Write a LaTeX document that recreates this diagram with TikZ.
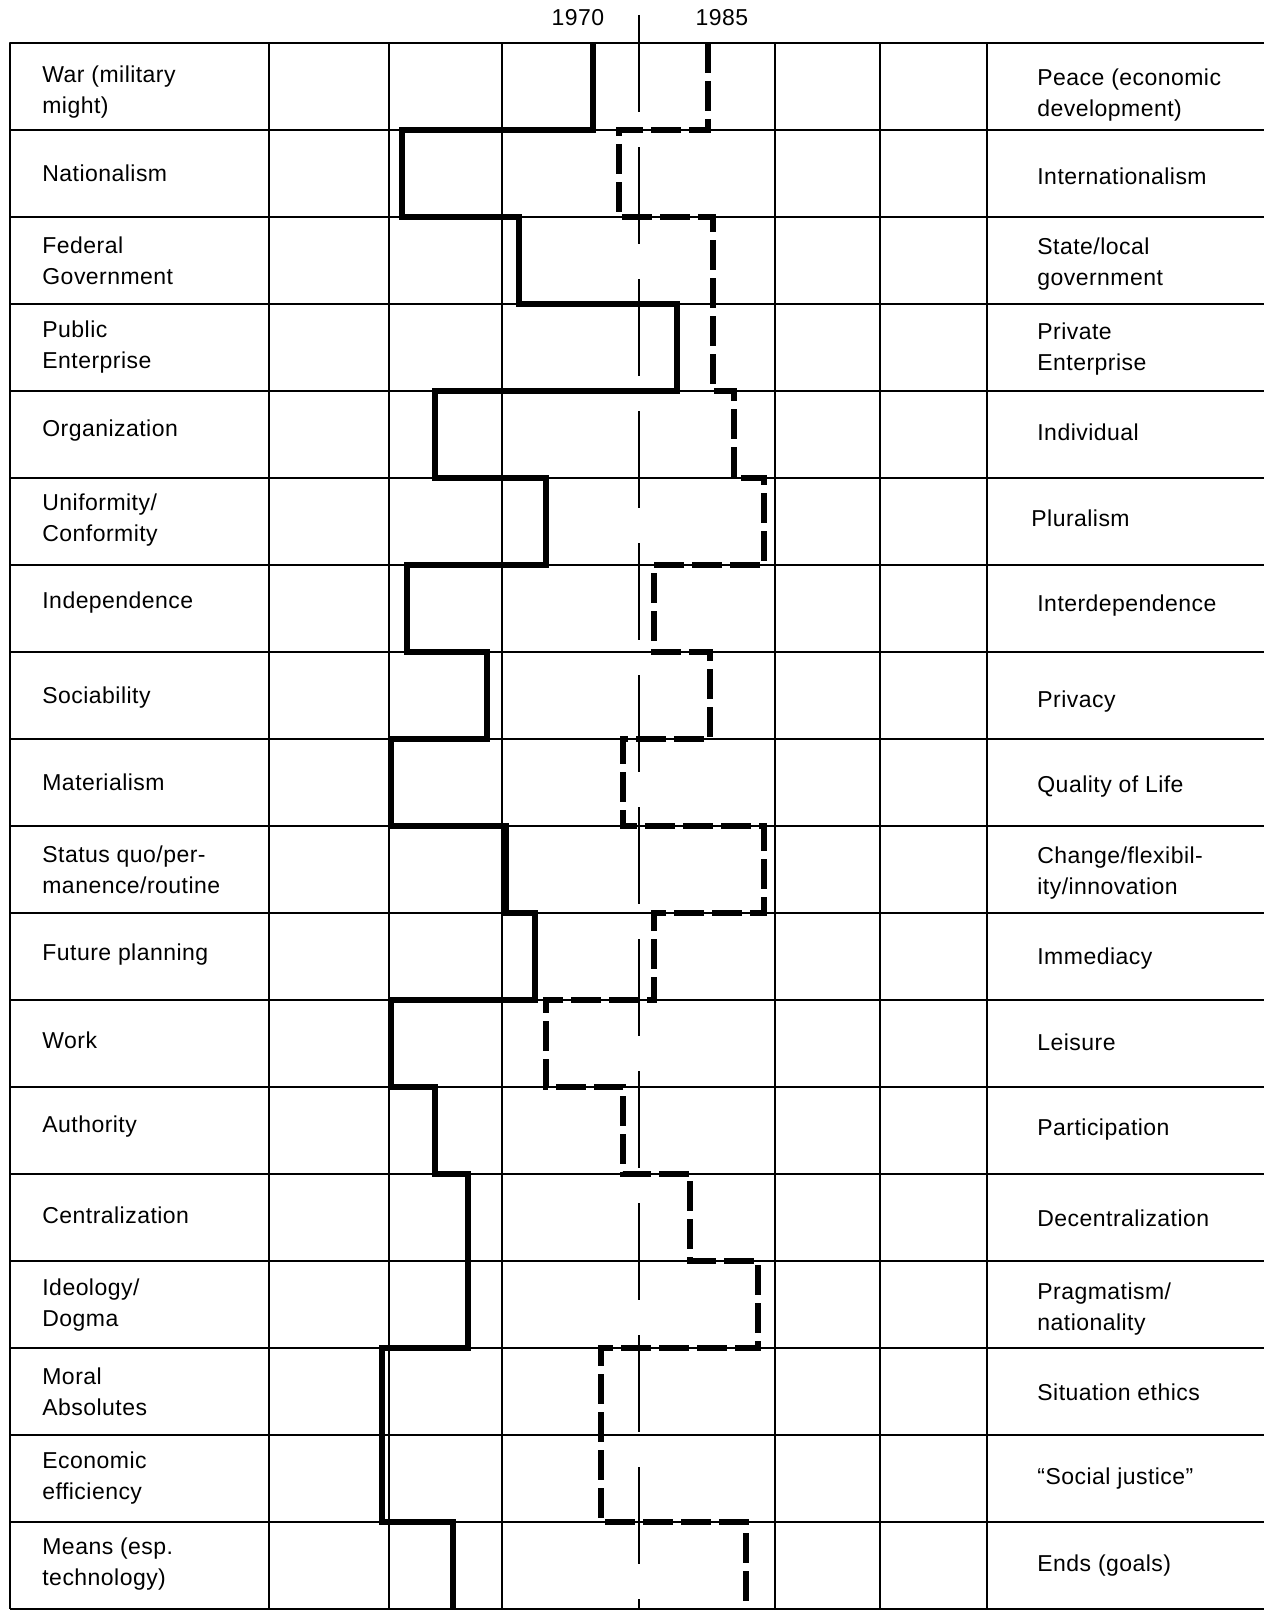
\documentclass[tikz,border=0pt]{standalone}
\usepackage{fontspec}
\setmainfont{Liberation Sans}[LetterSpace=2]

\tikzset{
  gridline/.style={line width=0.9pt},
  frameline/.style={line width=1.3pt},
  midline/.style={line width=1pt,dash pattern=on 48.5pt off 17.5pt},
  trend70/.style={line width=2.8pt,line cap=butt,line join=miter},
  trend85/.style={line width=2.8pt,line cap=butt,line join=miter,dash pattern=on 15pt off 4pt},
  valuelabel/.style={anchor=west,align=left,inner sep=0pt,font=\fontsize{11.5}{15.5}\selectfont},
  yearlabel/.style={anchor=center,inner sep=0pt,font=\fontsize{11.5}{14}\selectfont}
}

\begin{document}
\begin{tikzpicture}[x=0.5pt,y=0.5pt,yscale=-1,every path/.style={join=round}]
    \useasboundingbox (0,0) rectangle (1264,1611);
    % grid
    \foreach \r in {0,...,18}
      \draw[gridline] (10,{43+87*\r}) -- (1264,{43+87*\r});
    \foreach \x in {269,389,502,775,880,987}
      \draw[gridline] (\x,43) -- (\x,1609);
    \draw[frameline] (1264,43) -- (10,43) -- (10,1609);
    \draw[midline] (639,15) -- (639,1609);
    % years
    \node[yearlabel] (y70) at (578,18) {1970};
    \node[yearlabel] (y85) at (722,18) {1985};
    % 1970 profile
    \draw[trend70] (593,43) -- (593,130) -- (402,130) -- (402,217) -- (519,217) -- (519,304)
      -- (677,304) -- (677,391) -- (435,391) -- (435,478) -- (546,478) -- (546,565)
      -- (407,565) -- (407,652) -- (487,652) -- (487,739) -- (391,739) -- (391,826)
      -- (506,826) -- (506,913) -- (535,913) -- (535,1000) -- (391,1000) -- (391,1087)
      -- (435,1087) -- (435,1174) -- (468,1174) -- (468,1348) -- (382,1348) -- (382,1522)
      -- (453,1522) -- (453,1609);
    % 1985 profile
    \draw[trend85] (708,43) -- (708,130) -- (619,130) -- (619,217) -- (713,217) -- (713,391)
      -- (734,391) -- (734,478) -- (764,478) -- (764,565) -- (654,565) -- (654,652)
      -- (710,652) -- (710,739) -- (623,739) -- (623,826) -- (764,826) -- (764,913)
      -- (654,913) -- (654,1000) -- (546,1000) -- (546,1087) -- (623,1087) -- (623,1174)
      -- (690,1174) -- (690,1261) -- (758,1261) -- (758,1348) -- (601,1348) -- (601,1522)
      -- (746,1522) -- (746,1609);
    % left values
    \node[valuelabel] (L1) at (42,92) {War (military\\might)};
    \node[valuelabel] (L2) at (42,173.5) {Nationalism};
    \node[valuelabel] (L3) at (42,260.5) {Federal\\Government};
    \node[valuelabel] (L4) at (42,347.5) {Public\\Enterprise};
    \node[valuelabel] (L5) at (42,431) {Organization};
    \node[valuelabel] (L6) at (42,520) {Uniformity/\\Conformity};
    \node[valuelabel] (L7) at (42,602.5) {Independence};
    \node[valuelabel] (L8) at (42,697.5) {Sociability};
    \node[valuelabel] (L9) at (42,782) {Materialism};
    \node[valuelabel] (L10) at (42,869.5) {Status quo/per-\\manence/routine};
    \node[valuelabel] (L11) at (42,954.5) {Future planning};
    \node[valuelabel] (L12) at (42,1040) {Work};
    \node[valuelabel] (L13) at (42,1126.5) {Authority};
    \node[valuelabel] (L14) at (42,1215) {Centralization};
    \node[valuelabel] (L15) at (42,1305.5) {Ideology/\\Dogma};
    \node[valuelabel] (L16) at (42,1391.5) {Moral\\Absolutes};
    \node[valuelabel] (L17) at (42,1478) {Economic\\efficiency};
    \node[valuelabel] (L18) at (42,1564.5) {Means (esp.\\technology)};
    % right values
    \node[valuelabel] (R1) at (1037,95.5) {Peace (economic\\development)};
    \node[valuelabel] (R2) at (1037,176.5) {Internationalism};
    \node[valuelabel] (R3) at (1037,264.5) {State/local\\government};
    \node[valuelabel] (R4) at (1037,349.5) {Private\\Enterprise};
    \node[valuelabel] (R5) at (1037,432.5) {Individual};
    \node[valuelabel] (R6) at (1031,518.5) {Pluralism};
    \node[valuelabel] (R7) at (1037,605.5) {Interdependence};
    \node[valuelabel] (R8) at (1037,701.5) {Privacy};
    \node[valuelabel] (R9) at (1037,786.5) {Quality of Life};
    \node[valuelabel] (R10) at (1037,873) {Change/flexibil-\\ity/innovation};
    \node[valuelabel] (R11) at (1037,958.5) {Immediacy};
    \node[valuelabel] (R12) at (1037,1042.5) {Leisure};
    \node[valuelabel] (R13) at (1037,1129.5) {Participation};
    \node[valuelabel] (R14) at (1037,1218.5) {Decentralization};
    \node[valuelabel] (R15) at (1037,1309.5) {Pragmatism/\\nationality};
    \node[valuelabel] (R16) at (1037,1392.5) {Situation ethics};
    \node[valuelabel] (R17) at (1037,1478.5) {``Social justice''};
    \node[valuelabel] (R18) at (1037,1565.5) {Ends (goals)};
\end{tikzpicture}
\end{document}
